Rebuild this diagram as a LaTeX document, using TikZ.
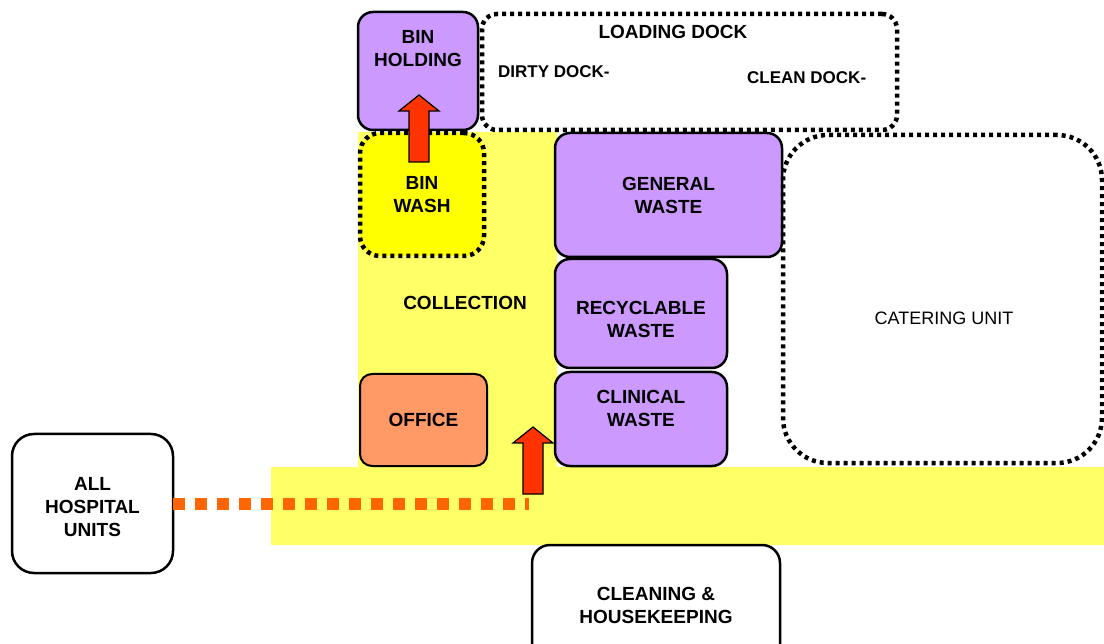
\documentclass[tikz,border=0pt]{standalone}
\usepackage{fontspec}
\setmainfont{Liberation Sans}
\usetikzlibrary{positioning,calc}
\definecolor{wastepurple}{HTML}{CC99FF}
\definecolor{officeorange}{HTML}{FF9966}
\definecolor{collectyellow}{HTML}{FFFF66}
\definecolor{washyellow}{HTML}{FFFF00}
\definecolor{routeorange}{HTML}{FF6600}
\definecolor{arrowred}{HTML}{FF3300}
\tikzset{
    room/.style={shape=rectangle,draw,line width=2.5pt,rounded corners=15pt,inner sep=0pt,outer sep=0pt,align=center},
    wasteroom/.style={room,fill=wastepurple},
    openroom/.style={room,line width=4.5pt,dash pattern=on 4pt off 4pt},
    roomtext/.style={align=center,inner sep=0pt},
    smalltext/.style={roomtext,anchor=west,font=\fontsize{17}{20}\selectfont\bfseries},
    route/.style={draw=routeorange,line width=12pt,dash pattern=on 12pt off 10pt},
    fatarrow/.style={draw=black,line width=1.2pt,fill=arrowred,line join=miter},
}
\newcommand{\uparrowbetween}[2]{% foot, tip
    \draw[fatarrow] let \p1=(#1), \p2=(#2) in
        (\x1-10pt,\y1) -- (\x1-10pt,\y2-16pt) -- (\x1-20pt,\y2-16pt) -- (\x1,\y2)
        -- (\x1+20pt,\y2-16pt) -- (\x1+10pt,\y2-16pt) -- (\x1+10pt,\y1) -- cycle;
}
\begin{document}
\begin{tikzpicture}[x=1pt,y=-1pt,every node/.style={font=\fontsize{19}{23}\selectfont\bfseries}]
    \useasboundingbox (0,0) rectangle (1104,644);
    \clip (0,0) rectangle (1104,644);
    % collection floor
    \fill[collectyellow] (358,132) -- (557,132) -- (557,467) -- (1104,467) -- (1104,545)
        -- (271,545) -- (271,467) -- (358,467) -- cycle;

    % loading side
    \node[wasteroom,minimum width=120pt,minimum height=118pt] (binhold) at (418,71) {};
    \node[roomtext] (binholdtext) at ([yshift=22pt]binhold.center) {BIN\\HOLDING};
    \node[openroom,minimum width=415pt,minimum height=116pt] (dock) at (689.5,72) {};
    \node[roomtext] (docktitle) at (673,32) {LOADING DOCK};
    \node[smalltext] (dirty) at (498,72) {DIRTY DOCK-};
    \node[smalltext] (clean) at (747,78) {CLEAN DOCK-};

    % rooms round the collection area
    \node[openroom,fill=washyellow,rounded corners=20pt,minimum width=124pt,minimum height=123pt] (binwash) at (422,194.5) {BIN\\WASH};
    \node[roomtext] (collection) at (465,303) {COLLECTION};
    \node[room,fill=officeorange,line width=2pt,rounded corners=12pt,minimum width=127pt,minimum height=92pt] (office) at (423.5,420) {OFFICE};
    \node[wasteroom,minimum width=227pt,minimum height=124pt] (general) at (668.5,195) {GENERAL\\WASTE};
    \node[wasteroom,minimum width=172pt,minimum height=109pt,below right=2pt and 0pt of general.south west] (recycl) {};
    \node[roomtext] (recycltext) at ([yshift=-6pt]recycl.center) {RECYCLABLE\\WASTE};
    \node[wasteroom,minimum width=172pt,minimum height=94pt,below right=4pt and 0pt of recycl.south west] (clinical) {};
    \node[roomtext] (clinicaltext) at ([yshift=10.5pt]clinical.center) {CLINICAL\\WASTE};
    \node[openroom,rounded corners=45pt,minimum width=319pt,minimum height=328pt] (catering) at (942.5,299) {};
    \node[roomtext,font=\fontsize{18}{22}\selectfont] (cateringtext) at (944,318) {CATERING UNIT};

    % outside units
    \node[room,fill=white,rounded corners=22pt,minimum width=161pt,minimum height=139pt] (allunits) at (92.5,503.5) {};
    \node[roomtext] (allunitstext) at ([yshift=-4pt]allunits.center) {ALL\\HOSPITAL\\UNITS};
    \node[room,fill=white,rounded corners=18pt,minimum width=248pt,minimum height=120pt] (cleaning) at (656,605) {CLEANING \&\\HOUSEKEEPING};

    % flows
    \coordinate (routeend) at (529,503);
    \coordinate (clinfoot) at (533,494);
    \coordinate (clintip) at (533,427);
    \coordinate (washfoot) at (419,162);
    \coordinate (holdtip) at (419,95);
    \draw[route] (allunits.east) -- (allunits.east -| routeend);
    \uparrowbetween{clinfoot}{clintip}
    \uparrowbetween{washfoot}{holdtip}
\end{tikzpicture}
\end{document}
